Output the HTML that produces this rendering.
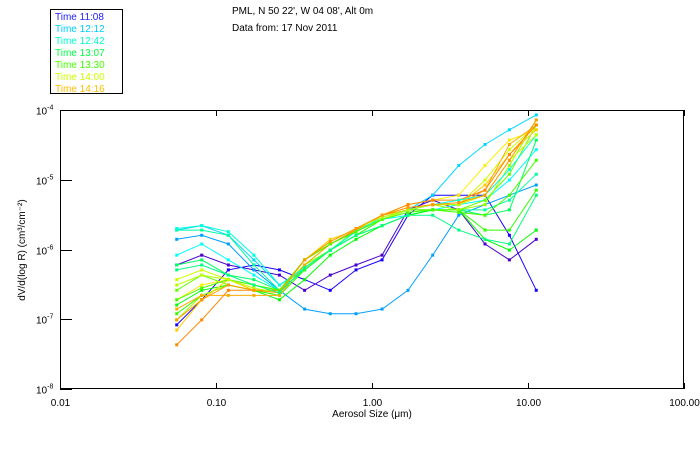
<!DOCTYPE html>
<html><head><meta charset="utf-8"><style>
body{margin:0;background:#fff;font-family:"Liberation Sans",sans-serif;}
svg text{font-family:"Liberation Sans",sans-serif;font-size:10px;}
</style></head><body>
<svg id="chart" width="700" height="450" viewBox="0 0 700 450">
<rect x="0" y="0" width="700" height="450" fill="#fff"/>
<text x="232" y="14">PML, N 50 22', W 04 08', Alt 0m</text>
<text x="232" y="31">Data from: 17 Nov 2011</text>
<rect x="50.5" y="9.5" width="72" height="84" fill="#fff" stroke="#000"/>
<g id="legend"></g>
<rect x="60.5" y="110.5" width="623" height="278" fill="none" stroke="#000"/>
<g id="axes"></g>
<g id="series"></g>
<text x="372" y="417" text-anchor="middle">Aerosol Size (μm)</text>
<text transform="translate(25,250) rotate(-90)" text-anchor="middle">dV/d(log R) (cm³/cm⁻²)</text>
</svg>
<script>
const sizes=[0.056,0.081,0.12,0.175,0.255,0.37,0.54,0.79,1.16,1.7,2.45,3.6,5.3,7.6,11.3];
const legendLabels=["Time 11:08","Time 12:12","Time 12:42","Time 13:07","Time 13:30","Time 14:00","Time 14:16"];
const legendColors=["#2020ff","#00ccff","#00ffcc","#00ff44","#44ff00","#ccff00","#ffbb00"];
const xTickValues=[0.01,0.1,1,10,100];
const xTickLabels=["0.01","0.10","1.00","10.00","100.00"];
const yTickValues=[1e-4,1e-5,1e-6,1e-7,1e-8];
const yTickExps=["-4","-5","-6","-7","-8"];
const seriesColors=["#1a00ff","#4a00cc","#00a0ff","#00d8ff","#00ffff","#00ffa0","#00ff60","#00ff00","#30ff00","#66ff00","#99ff00","#ccff00","#ffee00","#ffcc00","#ffaa00","#ff8800","#00ffdd","#44ff00","#bbff00","#ff9900","#00ff80"];
const s1=[8.3e-8,1.9e-7,5.1e-7,6.0e-7,5.1e-7,3.7e-7,2.6e-7,5.1e-7,7.1e-7,3.1e-6,6.0e-6,6.0e-6,6.0e-6,1.6e-6,2.6e-7];
const s2=[6.0e-7,8.3e-7,6.0e-7,5.1e-7,4.3e-7,2.6e-7,4.3e-7,6.0e-7,8.3e-7,3.7e-6,5.1e-6,3.7e-6,1.2e-6,7.1e-7,1.4e-6];
const s3=[1.4e-6,1.6e-6,1.2e-6,5.1e-7,2.6e-7,1.4e-7,1.2e-7,1.2e-7,1.4e-7,2.6e-7,8.3e-7,3.1e-6,4.4e-6,6.0e-6,8.4e-6];
const s4=[1.9e-6,2.2e-6,1.6e-6,7.1e-7,3.1e-7,5.1e-7,9.8e-7,1.9e-6,2.7e-6,3.7e-6,6.0e-6,1.6e-5,3.2e-5,5.2e-5,8.5e-5];
const s5=[8.3e-7,1.2e-6,7.1e-7,4.3e-7,2.6e-7,5.1e-7,9.8e-7,1.9e-6,2.7e-6,3.1e-6,3.7e-6,4.4e-6,5.1e-6,9.9e-6,2.7e-5];
const s6=[1.9e-6,1.9e-6,1.6e-6,6.0e-7,2.6e-7,5.1e-7,9.8e-7,1.6e-6,2.7e-6,3.7e-6,3.7e-6,3.7e-6,3.7e-6,5.1e-6,1.2e-5];
const s7=[6.0e-7,7.1e-7,4.3e-7,3.7e-7,2.6e-7,6.0e-7,9.8e-7,1.6e-6,2.2e-6,3.1e-6,3.7e-6,3.7e-6,3.1e-6,3.7e-6,3.7e-5];
const s8=[1.6e-7,2.6e-7,3.1e-7,2.6e-7,1.9e-7,3.7e-7,8.3e-7,1.4e-6,2.2e-6,3.1e-6,3.7e-6,3.7e-6,1.4e-6,9.8e-7,1.9e-6];
const s9=[1.2e-7,2.2e-7,3.1e-7,2.6e-7,2.2e-7,5.1e-7,9.8e-7,1.6e-6,2.7e-6,3.7e-6,3.7e-6,3.7e-6,1.9e-6,1.9e-6,7.1e-6];
const s10=[2.6e-7,4.3e-7,3.1e-7,2.6e-7,2.6e-7,6.0e-7,1.2e-6,1.9e-6,2.7e-6,3.7e-6,3.7e-6,3.7e-6,5.1e-6,1.2e-5,6.1e-5];
const s11=[9.8e-8,2.2e-7,3.1e-7,2.6e-7,2.6e-7,6.0e-7,9.8e-7,1.9e-6,2.7e-6,3.7e-6,4.4e-6,3.7e-6,4.4e-6,1.6e-5,7.2e-5];
const s12=[3.7e-7,5.1e-7,3.7e-7,3.1e-7,2.6e-7,7.1e-7,1.2e-6,1.9e-6,2.7e-6,3.7e-6,4.4e-6,4.4e-6,9.9e-6,2.7e-5,6.1e-5];
const s13=[1.9e-7,3.1e-7,3.7e-7,2.6e-7,2.6e-7,7.1e-7,1.2e-6,1.9e-6,3.1e-6,4.4e-6,5.1e-6,6.0e-6,1.6e-5,3.7e-5,5.2e-5];
const s14=[7.0e-8,1.9e-7,3.7e-7,2.6e-7,2.6e-7,7.1e-7,1.4e-6,1.9e-6,3.1e-6,3.7e-6,4.4e-6,4.4e-6,8.4e-6,2.3e-5,5.2e-5];
const s15=[1.4e-7,2.2e-7,2.2e-7,2.2e-7,2.2e-7,6.0e-7,1.2e-6,1.9e-6,3.1e-6,3.7e-6,4.4e-6,4.4e-6,7.1e-6,3.2e-5,6.1e-5];
const s16=[4.3e-8,9.8e-8,2.6e-7,2.6e-7,2.6e-7,7.1e-7,1.2e-6,1.9e-6,3.1e-6,4.4e-6,5.1e-6,5.1e-6,7.1e-6,2.3e-5,6.1e-5];
const s17=[2.0e-6,2.2e-6,1.8e-6,8.3e-7,3.1e-7,5.5e-7,9.8e-7,1.8e-6,2.9e-6,3.7e-6,4.4e-6,5.1e-6,6.0e-6,1.4e-5,4.4e-5];
const s18=[1.9e-7,2.8e-7,3.7e-7,3.1e-7,2.6e-7,7.1e-7,1.2e-6,1.8e-6,2.7e-6,3.4e-6,3.7e-6,3.4e-6,3.1e-6,6.0e-6,1.9e-5];
const s19=[3.1e-7,4.3e-7,3.7e-7,2.8e-7,2.4e-7,7.1e-7,1.3e-6,2.0e-6,2.9e-6,3.7e-6,4.4e-6,4.4e-6,6.0e-6,1.9e-5,4.4e-5];
const s20=[9.8e-8,1.9e-7,3.1e-7,2.6e-7,2.4e-7,7.1e-7,1.3e-6,2.0e-6,3.1e-6,4.0e-6,4.4e-6,4.7e-6,6.0e-6,1.9e-5,7.2e-5];
const s21=[5.1e-7,6.0e-7,4.3e-7,3.1e-7,2.4e-7,5.5e-7,9.8e-7,1.6e-6,2.2e-6,3.1e-6,3.1e-6,1.9e-6,1.4e-6,1.2e-6,6.0e-6];
const allSeries=[s1,s2,s3,s4,s5,s6,s7,s8,s9,s10,s11,s12,s13,s14,s15,s16,s17,s18,s19,s20,s21];

const NS="http://www.w3.org/2000/svg";
function xPx(v){return 60+(Math.log10(v)+2)*156;}
function yPx(v){return 110+(-4-Math.log10(v))*69.75;}
function mk(tag,attrs,parent){const e=document.createElementNS(NS,tag);for(const k in attrs)e.setAttribute(k,attrs[k]);parent.appendChild(e);return e;}

const axes=document.getElementById('axes');
xTickValues.forEach((v,i)=>{
  const x=Math.round(xPx(v))+0.5;
  const t1=mk('line',{x1:x,x2:x,y1:389,y2:383,stroke:'#000'},axes);
  
  
  const t2=mk('line',{x1:x,x2:x,y1:110,y2:116,stroke:'#000'},axes);
  
  
  const tl=mk('text',{x:x,y:406,'text-anchor':'middle'},axes);
  tl.textContent=xTickLabels[i];
  
  
});
yTickValues.forEach((v,i)=>{
  const y=Math.round(yPx(v))+0.5;
  const t=mk('line',{x1:60,x2:72,y1:y,y2:y,stroke:'#000'},axes);
  
  
  const tl=mk('text',{x:36,y:y+4},axes);
  
  
  const a=document.createElementNS(NS,'tspan');a.textContent='10';tl.appendChild(a);
  const b=document.createElementNS(NS,'tspan');b.setAttribute('dy','-5');b.setAttribute('font-size','7');b.textContent=yTickExps[i];tl.appendChild(b);
});

const sg=document.getElementById('series');
allSeries.forEach((arr,si)=>{
  const g=mk('g',{},sg);
  
  
  const pts=arr.map((v,i)=>xPx(sizes[i]).toFixed(1)+','+yPx(v).toFixed(1)).join(' ');
  const pl=mk('polyline',{points:pts,fill:'none',stroke:seriesColors[si],'stroke-width':1},g);
  
  
  arr.forEach((v,i)=>{
    const r=mk('rect',{x:xPx(sizes[i])-1.5,y:yPx(v)-1.5,width:3,height:3,fill:seriesColors[si]},g);
    
    
  });
});

const lg=document.getElementById('legend');
legendLabels.forEach((l,i)=>{
  const t=mk('text',{x:55,y:20+i*12,fill:legendColors[i]},lg);
  t.textContent=l;
  
  
});
</script>
</body></html>
